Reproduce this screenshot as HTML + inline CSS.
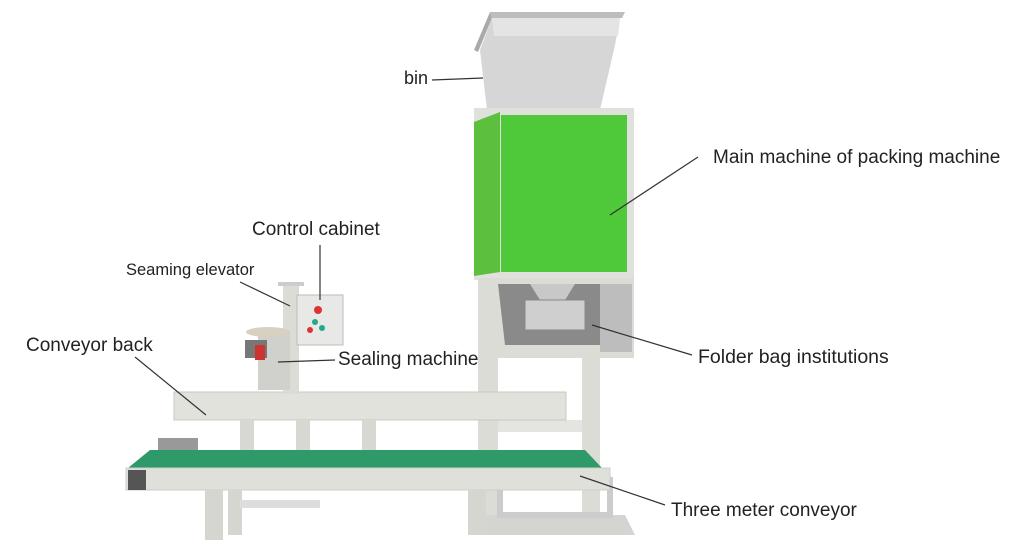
<!DOCTYPE html>
<html><head><meta charset="utf-8"><style>
html,body{margin:0;padding:0;background:#fff;}
svg{display:block;}
text{font-family:"Liberation Sans",sans-serif;fill:#222;}
</style></head><body>
<svg width="1024" height="545" viewBox="0 0 1024 545" xmlns="http://www.w3.org/2000/svg">
<polygon points="490,12 625,12 622,18 492,18" fill="#bdbdbd"/>
<polygon points="490,12 492,18 478,52 474,50" fill="#aaa"/>
<polygon points="492,18 620,18 615,45 600,110 487,110 480,50" fill="#d6d6d6"/>
<polygon points="492,18 620,18 618,36 494,36" fill="#e4e4e4"/>
<rect x="474" y="108" width="160" height="172" fill="#e0e0dc"/>
<polygon points="474,122 500,112 500,272 474,276" fill="#5cbf3e"/>
<rect x="501" y="115" width="126" height="157" fill="#4fc93a"/>
<rect x="478" y="278" width="156" height="80" fill="#dcdcd6"/>
<polygon points="498,284 615,284 605,345 505,345" fill="#8a8a8a"/>
<polygon points="530,284 575,284 565,300 540,300" fill="#c8c8c8"/>
<rect x="525" y="300" width="60" height="30" fill="#cfcfcf" stroke="#888"/>
<rect x="600" y="284" width="32" height="68" fill="#bdbdbd"/>
<rect x="478" y="355" width="20" height="178" fill="#dcdcd6"/>
<rect x="582" y="355" width="18" height="178" fill="#dcdcd6"/>
<rect x="498" y="420" width="84" height="12" fill="#e4e4e0"/>
<polygon points="478,515 625,515 635,535 478,535" fill="#d4d4d0"/>
<rect x="500" y="480" width="110" height="35" fill="none" stroke="#ccc" stroke-width="6"/>
<rect x="174" y="392" width="392" height="28" fill="#e2e2dc" stroke="#c8c8c2"/>
<rect x="240" y="420" width="14" height="32" fill="#d8d8d2"/>
<rect x="362" y="420" width="14" height="32" fill="#d8d8d2"/>
<rect x="283" y="282" width="16" height="112" fill="#dcdcd6"/>
<rect x="278" y="282" width="26" height="4" fill="#ccc"/>
<rect x="297" y="295" width="46" height="50" fill="#e8e8e6" stroke="#bbb"/>
<circle cx="318" cy="310" r="4" fill="#d33"/>
<circle cx="315" cy="322" r="3" fill="#2a8"/>
<circle cx="310" cy="330" r="3" fill="#d33"/>
<circle cx="322" cy="328" r="3" fill="#2a8"/>
<rect x="258" y="330" width="32" height="60" fill="#d0d0cc"/>
<rect x="245" y="340" width="22" height="18" fill="#777"/>
<rect x="255" y="345" width="10" height="15" fill="#c33"/>
<ellipse cx="268" cy="332" rx="22" ry="5" fill="#d8d0c0"/>
<rect x="296" y="420" width="14" height="32" fill="#d8d8d2"/>
<rect x="158" y="438" width="40" height="18" fill="#999"/>
<polygon points="128,468 150,450 585,450 602,468" fill="#2e9a6a"/>
<rect x="126" y="468" width="484" height="22" fill="#e0e0da" stroke="#ccc"/>
<rect x="128" y="470" width="18" height="20" fill="#555"/>
<rect x="205" y="490" width="18" height="50" fill="#d6d6d0"/>
<rect x="228" y="490" width="14" height="45" fill="#d6d6d0"/>
<rect x="240" y="500" width="80" height="8" fill="#ddd"/>
<rect x="468" y="490" width="18" height="45" fill="#d6d6d0"/>
<g stroke="#333" stroke-width="1.2" fill="none">
<line x1="432" y1="80" x2="483" y2="78"/>
<line x1="698" y1="157" x2="610" y2="215"/>
<line x1="320" y1="245" x2="320" y2="300"/>
<line x1="240" y1="282" x2="290" y2="306"/>
<line x1="135" y1="357" x2="206" y2="415"/>
<line x1="335" y1="360" x2="278" y2="362"/>
<line x1="692" y1="355" x2="592" y2="325"/>
<line x1="665" y1="505" x2="580" y2="476"/>
</g>
<text x="404" y="84" font-size="18">bin</text>
<text x="713" y="163" font-size="19">Main machine of packing machine</text>
<text x="252" y="235" font-size="19">Control cabinet</text>
<text x="126" y="275" font-size="16.5">Seaming elevator</text>
<text x="26" y="351" font-size="19">Conveyor back</text>
<text x="338" y="365" font-size="19">Sealing machine</text>
<text x="698" y="363" font-size="19.5">Folder bag institutions</text>
<text x="671" y="516" font-size="19">Three meter conveyor</text>
</svg>
</body></html>
